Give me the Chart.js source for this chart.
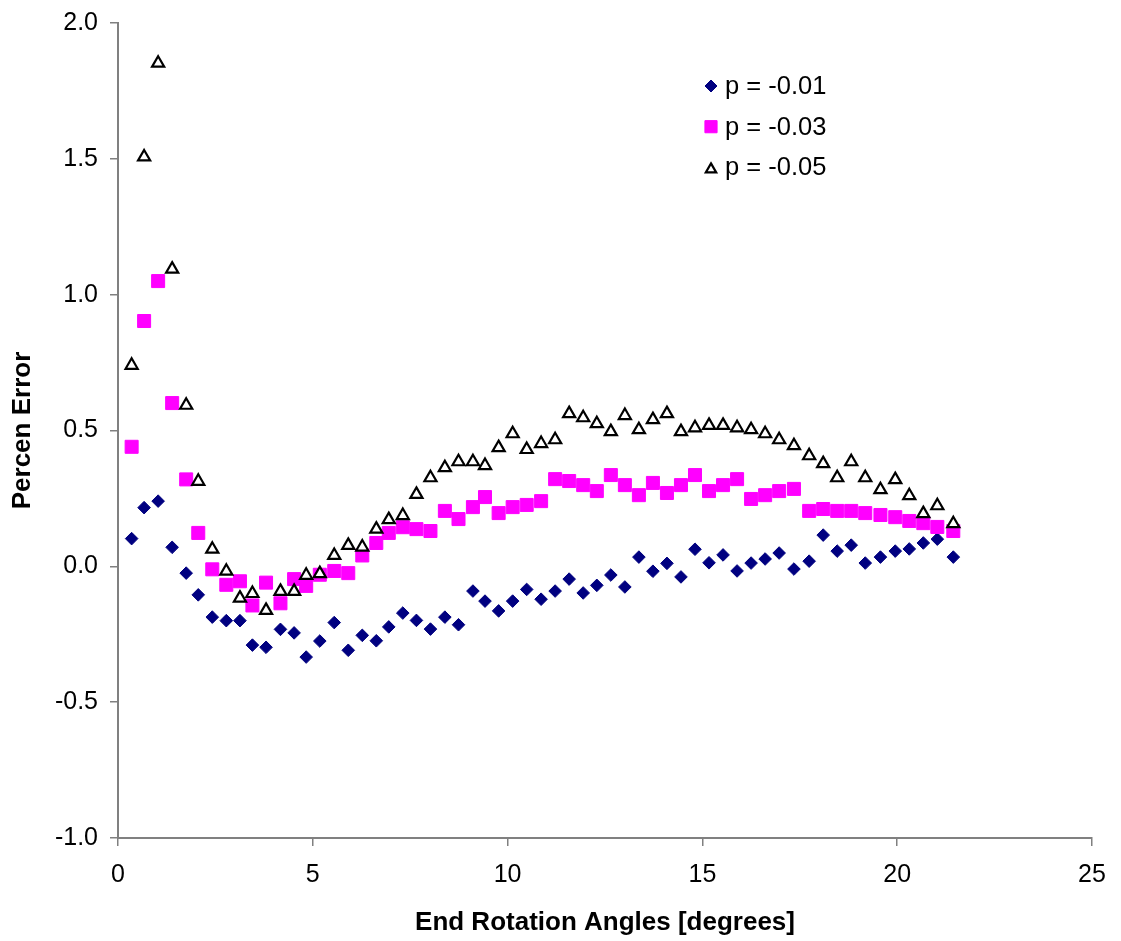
<!DOCTYPE html>
<html>
<head>
<meta charset="utf-8">
<script src="https://cdn.jsdelivr.net/npm/chart.js@4/dist/chart.umd.min.js"></script>
<style>
  html, body { margin: 0; padding: 0; background: #ffffff; }
  #wrap { width: 1121px; height: 941px; }
</style>
</head>
<body>
<div id="wrap"><canvas id="c" width="1121" height="941"></canvas></div>
<script>
// ---- data ----
const xAngles = [0.35, 0.67, 1.03, 1.39, 1.75, 2.06, 2.42, 2.78, 3.13, 3.45,
  3.80, 4.17, 4.52, 4.83, 5.18, 5.55, 5.91, 6.27, 6.63, 6.95,
  7.31, 7.66, 8.02, 8.39, 8.74, 9.11, 9.42, 9.77, 10.13, 10.49,
  10.86, 11.22, 11.58, 11.94, 12.29, 12.65, 13.01, 13.37, 13.73, 14.09,
  14.45, 14.81, 15.17, 15.53, 15.89, 16.25, 16.61, 16.97, 17.35, 17.74,
  18.10, 18.46, 18.82, 19.18, 19.57, 19.95, 20.31, 20.67, 21.03, 21.44];

const errP001 = [0.102, 0.216, 0.24, 0.07, -0.025, -0.105, -0.187, -0.20, -0.20, -0.29,
  -0.298, -0.232, -0.245, -0.334, -0.275, -0.207, -0.309, -0.254, -0.274, -0.223,
  -0.172, -0.199, -0.231, -0.187, -0.215, -0.091, -0.128, -0.164, -0.128, -0.085,
  -0.121, -0.091, -0.047, -0.098, -0.07, -0.032, -0.076, 0.034, -0.018, 0.011,
  -0.039, 0.063, 0.013, 0.042, -0.017, 0.012, 0.027, 0.049, -0.01, 0.019,
  0.115, 0.056, 0.078, 0.012, 0.034, 0.056, 0.064, 0.086, 0.10, 0.034];

const errP003 = [0.44, 0.903, 1.05, 0.601, 0.32, 0.123, -0.011, -0.068, -0.055, -0.144,
  -0.06, -0.136, -0.047, -0.072, -0.031, -0.017, -0.025, 0.04, 0.086, 0.123,
  0.144, 0.137, 0.13, 0.204, 0.174, 0.218, 0.255, 0.196, 0.218, 0.226,
  0.24, 0.321, 0.314, 0.299, 0.277, 0.336, 0.299, 0.262, 0.307, 0.27,
  0.299, 0.336, 0.277, 0.299, 0.321, 0.248, 0.262, 0.277, 0.285, 0.204,
  0.211, 0.204, 0.204, 0.196, 0.189, 0.181, 0.167, 0.159, 0.145, 0.13];

const errP005 = [0.74, 1.507, 1.852, 1.094, 0.593, 0.313, 0.063, -0.018, -0.117, -0.10,
  -0.162, -0.092, -0.092, -0.033, -0.027, 0.04, 0.077, 0.071, 0.137, 0.172,
  0.187, 0.265, 0.326, 0.363, 0.385, 0.385, 0.371, 0.437, 0.488, 0.43,
  0.452, 0.466, 0.562, 0.547, 0.525, 0.496, 0.555, 0.503, 0.54, 0.562,
  0.496, 0.51, 0.519, 0.519, 0.51, 0.503, 0.488, 0.466, 0.444, 0.407,
  0.378, 0.326, 0.385, 0.326, 0.282, 0.319, 0.26, 0.194, 0.223, 0.157];

const seriesNames = ['p = -0.01', 'p = -0.03', 'p = -0.05'];
const xTickLabels = ['0', '5', '10', '15', '20', '25'];
const yTickLabels = ['-1.0', '-0.5', '0.0', '0.5', '1.0', '1.5', '2.0'];
const xTitle = 'End Rotation Angles [degrees]';
const yTitle = 'Percen Error';

// ---- build ----
const FONT = "'Liberation Sans', Arial, Helvetica, sans-serif";
const toPoints = (ys) => ys.map((y, i) => ({ x: xAngles[i], y: y }));

const datasets = [
  { label: seriesNames[0], data: toPoints(errP001), pointStyle: 'rectRot',
    pointRadius: 6.3, pointBackgroundColor: '#000080', pointBorderColor: '#000080',
    pointBorderWidth: 1, showLine: false, order: 3, legendRadius: 6 },
  { label: seriesNames[1], data: toPoints(errP003), pointStyle: 'rect',
    pointRadius: 9.2, pointBackgroundColor: '#FF00FF', pointBorderColor: '#FF00FF',
    pointBorderWidth: 1, showLine: false, order: 2, legendRadius: 8.6 },
  { label: seriesNames[2], data: toPoints(errP005), pointStyle: 'triangle',
    pointRadius: 7, pointBackgroundColor: '#FFFFFF', pointBorderColor: '#000000',
    pointBorderWidth: 2.2, showLine: false, order: 1, legendRadius: 6 }
];

const legendPlugin = {
  id: 'inPlotLegend',
  afterDatasetsDraw(chart) {
    const ctx = chart.ctx;
    const mx = 711, tx = 725, y0 = 86, dy = 40.7;
    chart.data.datasets.forEach((ds, i) => {
      const y = y0 + i * dy;
      ctx.save();
      ctx.fillStyle = ds.pointBackgroundColor;
      ctx.strokeStyle = ds.pointBorderColor;
      ctx.lineWidth = ds.pointBorderWidth;
      Chart.helpers.drawPoint(ctx, { pointStyle: ds.pointStyle, radius: ds.legendRadius, borderWidth: ds.pointBorderWidth, rotation: 0 }, mx, y + (ds.pointStyle === 'triangle' ? 2 : 0));
      ctx.fillStyle = '#000000';
      ctx.font = '25.5px ' + FONT;
      ctx.textAlign = 'left';
      ctx.textBaseline = 'middle';
      ctx.fillText(ds.label, tx, y + 1);
      ctx.restore();
    });
  }
};

new Chart(document.getElementById('c'), {
  type: 'scatter',
  data: { datasets: datasets },
  plugins: [legendPlugin],
  options: {
    responsive: false,
    devicePixelRatio: 1,
    animation: false,
    layout: { padding: { top: 23, right: 29, bottom: 0, left: 0 } },
    plugins: { legend: { display: false }, tooltip: { enabled: false } },
    scales: {
      x: {
        type: 'linear', min: 0, max: 25,
        afterFit: (s) => { s.height = 103; },
        ticks: { stepSize: 5, padding: 14, color: '#000000',
          font: { family: FONT, size: 25 },
          callback: (v) => { const i = xTickLabels.indexOf(String(v)); return i >= 0 ? xTickLabels[i] : ''; } },
        grid: { display: true, drawOnChartArea: false, drawTicks: true, tickLength: 8, color: '#808080', lineWidth: 1.5 },
        border: { display: true, color: '#808080', width: 2 },
        title: { display: true, text: xTitle, color: '#000000',
          font: { family: FONT, size: 26, weight: 'bold' }, padding: { top: 0, bottom: 3 } }
      },
      y: {
        type: 'linear', min: -1, max: 2,
        afterFit: (s) => { s.width = 118; },
        ticks: { stepSize: 0.5, padding: 12, color: '#000000',
          font: { family: FONT, size: 25, lineHeight: 0.8 },
          callback: (v) => { const i = Math.round((v + 1) / 0.5); return yTickLabels[i] !== undefined ? yTickLabels[i] : ''; } },
        grid: { display: true, drawOnChartArea: false, drawTicks: true, tickLength: 8, color: '#808080', lineWidth: 1.5 },
        border: { display: true, color: '#808080', width: 2 },
        title: { display: true, text: yTitle, color: '#000000',
          font: { family: FONT, size: 26, weight: 'bold' }, padding: { top: 7, bottom: 0 } }
      }
    }
  }
});
</script>
</body>
</html>
